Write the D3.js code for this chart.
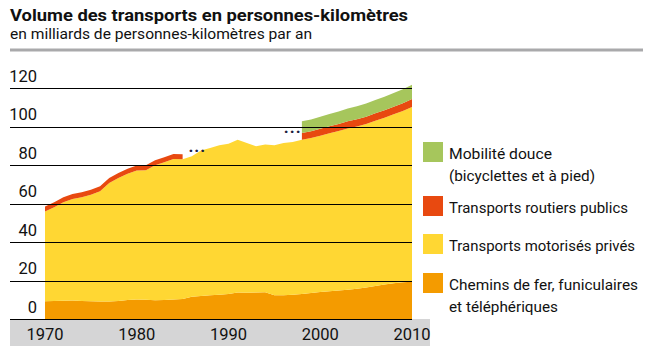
<!DOCTYPE html>
<html>
<head>
<meta charset="utf-8">
<script src="https://cdn.jsdelivr.net/npm/d3@7.9.0/dist/d3.min.js"></script>
<style>
  body { margin: 0; background: #fff; }
  svg { display: block; font-family: "Liberation Sans Narrow", Roboto, "DejaVu Sans", sans-serif; }
</style>
</head>
<body>
<svg id="chart" width="653" height="352"></svg>
<script>
// Data (milliards de personnes-km)
const years = d3.range(1970, 2011);
const rail = [9.2, 9.4, 9.5, 9.6, 9.3, 9.2, 9.1, 9.1, 9.4, 9.9,
  10.1, 10.0, 9.8, 9.9, 10.1, 10.4, 11.5, 12.0, 12.4, 12.6,
  13.0, 13.8, 13.7, 13.8, 13.9, 12.3, 12.4, 12.6, 13.0, 13.5,
  14.0, 14.4, 14.8, 15.2, 15.7, 16.4, 17.2, 17.9, 18.6, 19.1, 19.4];
const privateMotor = [46.7, 48.7, 51.2, 52.8, 54.0, 55.4, 57.2, 61.6, 63.9, 65.6,
  67.0, 67.3, 70.1, 71.5, 73.0, 72.6, 73.0, 75.5, 76.4, 77.6,
  78.0, 79.3, 77.7, 75.9, 76.7, 77.9, 79.0, 79.4, 80.1, 80.5,
  81.2, 82.1, 82.8, 83.8, 84.3, 84.9, 85.8, 86.6, 87.7, 88.9, 90.7];
const publicRoad = [2.5, 2.5, 2.5, 2.6, 2.6, 2.6, 2.6, 2.6, 2.6, 2.6,
  2.6, 2.6, 2.6, 2.6, 2.6, 2.6, null, null, null, null,
  null, null, null, null, null, null, null, null, 3.5, 3.5,
  3.6, 3.6, 3.7, 3.7, 3.8, 3.8, 3.9, 4.0, 4.0, 4.1, 4.2];
const slowMobility = [null, null, null, null, null, null, null, null, null, null,
  null, null, null, null, null, null, null, null, null, null,
  null, null, null, null, null, null, null, null, 6.1, 6.2,
  6.3, 6.4, 6.5, 6.6, 6.7, 6.8, 6.9, 7.0, 7.1, 7.2, 7.4];

const keys = ['rail', 'privateMotor', 'publicRoad', 'slowMobility'];
const colors = {
  rail: '#f49b00',
  privateMotor: '#ffd733',
  publicRoad: '#e84910',
  slowMobility: '#a6c65c'
};
const legendItems = [
  { key: 'slowMobility', lines: ['Mobilité douce', '(bicyclettes et à pied)'], widths: [103, 146] },
  { key: 'publicRoad', lines: ['Transports routiers publics'], widths: [179] },
  { key: 'privateMotor', lines: ['Transports motorisés privés'], widths: [186] },
  { key: 'rail', lines: ['Chemins de fer, funiculaires', 'et téléphériques'], widths: [189, 109] }
];
const yTicks = [0, 20, 40, 60, 80, 100, 120];
const xTicks = [1970, 1980, 1990, 2000, 2010];

const rows = years.map((yr, i) => ({
  year: yr,
  rail: rail[i],
  privateMotor: privateMotor[i],
  publicRoad: publicRoad[i],
  slowMobility: slowMobility[i]
}));

const svg = d3.select('#chart');

const x = d3.scaleLinear().domain([1970, 2010]).range([45, 412]);
const y = d3.scaleLinear().domain([0, 120]).range([319, 88]);

// title block
svg.append('text')
  .attr('x', 10).attr('y', 21)
  .attr('font-size', 17).attr('font-weight', 'bold')
  .attr('fill', '#111')
  .attr('textLength', 398).attr('lengthAdjust', 'spacingAndGlyphs')
  .text('Volume des transports en personnes-kilomètres');
svg.append('text')
  .attr('x', 10).attr('y', 38.5)
  .attr('font-size', 15)
  .attr('fill', '#111')
  .attr('textLength', 302).attr('lengthAdjust', 'spacingAndGlyphs')
  .text('en milliards de personnes-kilomètres par an');
svg.append('rect')
  .attr('x', 10).attr('y', 48.5).attr('width', 633).attr('height', 3)
  .attr('fill', '#a9a9ab');

// x axis band
svg.append('rect')
  .attr('x', 10).attr('y', 319).attr('width', 420).attr('height', 27)
  .attr('fill', '#d5d5d6');

// stacked areas
const stack = d3.stack()
  .keys(keys)
  .value((d, k) => d[k] ?? 0);
const series = stack(rows);

const area = d3.area()
  .defined(d => d.data[d.key] != null)
  .x(d => x(d.data.year))
  .y0(d => y(d[0]))
  .y1(d => y(d[1]));

svg.append('g')
  .selectAll('path')
  .data(series)
  .join('path')
  .attr('fill', s => colors[s.key])
  .attr('d', s => area(s.map(d => Object.assign(d, { key: s.key }))));

// gridlines on top of areas
svg.append('g')
  .selectAll('line')
  .data(yTicks)
  .join('line')
  .attr('x1', 10).attr('x2', 412)
  .attr('y1', d => Math.round(y(d)) + 0.5)
  .attr('y2', d => Math.round(y(d)) + 0.5)
  .attr('stroke', '#000')
  .attr('stroke-width', 1.2);

// y labels
svg.append('g')
  .selectAll('text')
  .data(yTicks)
  .join('text')
  .attr('x', 37)
  .attr('y', d => y(d) - 6.5)
  .attr('text-anchor', 'end')
  .attr('font-size', 16.5)
  .attr('fill', '#111')
  .text(d => d);

// x labels
svg.append('g')
  .selectAll('text')
  .data(xTicks)
  .join('text')
  .attr('x', d => x(d))
  .attr('y', 339.5)
  .attr('text-anchor', 'middle')
  .attr('font-size', 16.5)
  .attr('fill', '#111')
  .text(d => d);

// break markers
const breaks = [1986.6, 1997.0];
svg.append('g')
  .selectAll('text')
  .data(breaks)
  .join('text')
  .attr('x', d => x(d))
  .attr('y', (d, i) => i === 0 ? 152 : 133)
  .attr('text-anchor', 'middle')
  .attr('font-size', 17)
  .attr('font-weight', 'bold')
  .attr('letter-spacing', 1)
  .attr('fill', '#1b2040')
  .text('...');

// legend
const legendY = [142, 196, 234, 273];
const lg = svg.append('g');
legendItems.forEach((item, i) => {
  const top = legendY[i];
  lg.append('rect')
    .attr('x', 423).attr('y', top)
    .attr('width', 20).attr('height', 20)
    .attr('fill', colors[item.key]);
  item.lines.forEach((line, j) => {
    lg.append('text')
      .attr('x', 449)
      .attr('y', top + 17 + j * 22)
      .attr('font-size', 15.5)
      .attr('fill', '#111')
      .attr('textLength', item.widths[j]).attr('lengthAdjust', 'spacingAndGlyphs')
      .text(line);
  });
});
</script>
</body>
</html>
